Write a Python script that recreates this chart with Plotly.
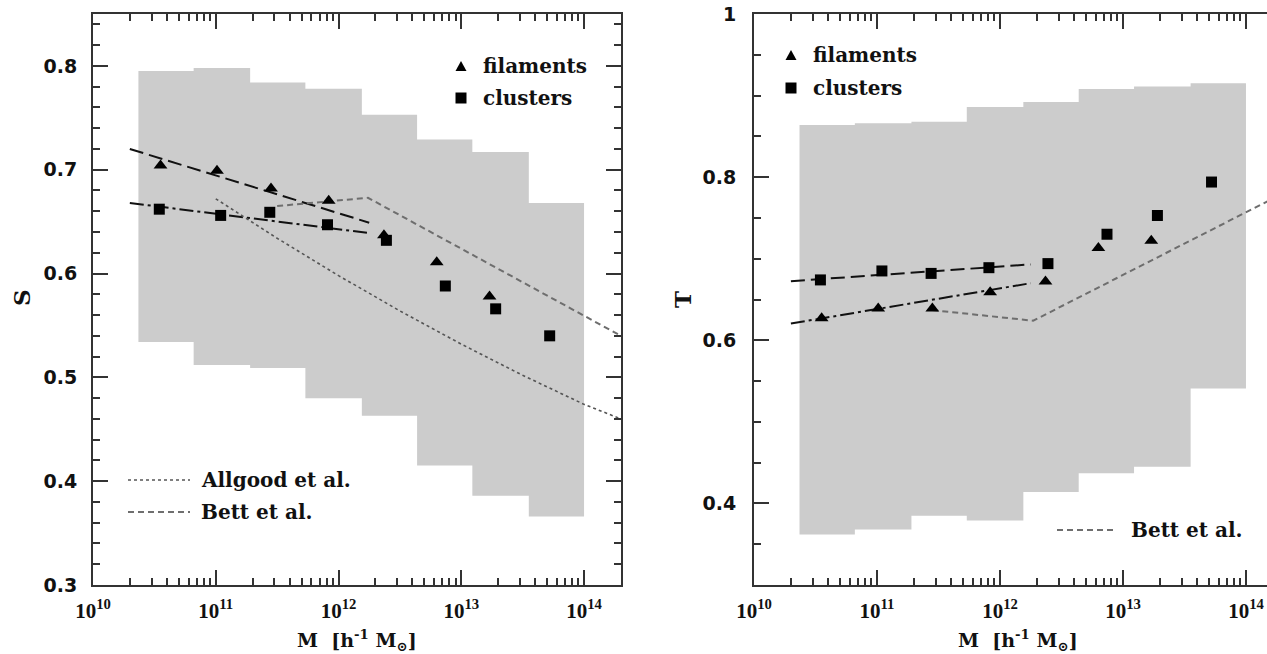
import plotly.graph_objects as go

# ---------------- data ----------------
# halo-mass bins (log10 M) of the grey 1-sigma bands
bin_edges_logM = [10.37, 10.82, 11.28, 11.73, 12.19, 12.64, 13.09, 13.55, 14.00]
S_band_hi = [0.795, 0.798, 0.784, 0.778, 0.753, 0.729, 0.717, 0.668]
S_band_lo = [0.534, 0.512, 0.509, 0.480, 0.463, 0.415, 0.386, 0.366]
T_band_hi = [0.864, 0.866, 0.868, 0.886, 0.892, 0.908, 0.911, 0.915]
T_band_lo = [0.362, 0.368, 0.385, 0.379, 0.414, 0.437, 0.445, 0.541]

# filaments (triangles)
fil_logM = [10.55, 11.01, 11.45, 11.92, 12.37, 12.80, 13.23]
S_fil = [0.704, 0.699, 0.682, 0.670, 0.637, 0.611, 0.578]
T_fil = [0.627, 0.639, 0.639, 0.659, 0.672, 0.713, 0.722]

# clusters (squares)
clu_logM = [10.54, 11.04, 11.44, 11.91, 12.39, 12.87, 13.28, 13.72]
S_clu = [0.662, 0.656, 0.659, 0.647, 0.632, 0.588, 0.566, 0.540]
T_clu = [0.674, 0.685, 0.682, 0.689, 0.694, 0.730, 0.753, 0.794]

# fits
fit_logM = [10.30, 12.25]
S_fil_fit = [0.720, 0.649]
S_clu_fit = [0.668, 0.639]
T_fil_fit = [0.6205, 0.670]
T_clu_fit = [0.6725, 0.693]

# literature curves
bett_S_logM = [11.50, 12.24, 14.30]
bett_S = [0.665, 0.673, 0.540]
bett_T_logM = [11.45, 12.27, 14.30]
bett_T = [0.637, 0.624, 0.780]
allgood_logM = [11.0, 11.5, 12.0, 12.5, 13.0, 13.5, 14.0, 14.3]
allgood_S = [0.672, 0.634, 0.598, 0.564, 0.532, 0.502, 0.474, 0.460]

decades = [10, 11, 12, 13, 14]
xtick_text = ["10<sup>%d</sup>" % d for d in decades]

# ---------------- layout helpers ----------------
W, H = 1267, 654
def px(x):
    return x / W
def py(y):
    return 1 - y / H

AX = "#333333"
GREY = "#cccccc"
TXT = "#111111"
SERIF = "DejaVu Serif"

def M(logs):
    return [10 ** v for v in logs]

def band(edges, hi, lo):
    xs, ys = [], []
    for i in range(len(hi)):
        xs += [edges[i], edges[i + 1]]
        ys += [hi[i], hi[i]]
    for i in reversed(range(len(lo))):
        xs += [edges[i + 1], edges[i]]
        ys += [lo[i], lo[i]]
    return M(xs), ys

fig = go.Figure()

def add_panel(xa, ya, band_hi, band_lo, fit_f, fit_c, dash_f, dash_c):
    bx, by = band(bin_edges_logM, band_hi, band_lo)
    fig.add_trace(go.Scatter(x=bx, y=by, fill="toself", fillcolor=GREY, mode="lines",
                             line=dict(width=0, color=GREY), hoverinfo="skip",
                             showlegend=False, xaxis=xa, yaxis=ya))
    fig.add_trace(go.Scatter(x=M(fit_logM), y=fit_f, mode="lines",
                             line=dict(color="#111", width=2, dash=dash_f),
                             showlegend=False, xaxis=xa, yaxis=ya))
    fig.add_trace(go.Scatter(x=M(fit_logM), y=fit_c, mode="lines",
                             line=dict(color="#111", width=2, dash=dash_c),
                             showlegend=False, xaxis=xa, yaxis=ya))

def add_points(xa, ya, yf, yc):
    fig.add_trace(go.Scatter(x=M(fil_logM), y=yf, mode="markers", name="filaments",
                             marker=dict(symbol="triangle-up", size=12, color="#000"),
                             showlegend=False, xaxis=xa, yaxis=ya))
    fig.add_trace(go.Scatter(x=M(clu_logM), y=yc, mode="markers", name="clusters",
                             marker=dict(symbol="square", size=11, color="#000"),
                             showlegend=False, xaxis=xa, yaxis=ya))

# left panel (S)
add_panel("x", "y", S_band_hi, S_band_lo, S_fil_fit, S_clu_fit,
          "14px,6px", "14px,4px,3px,4px")
fig.add_trace(go.Scatter(x=M(allgood_logM), y=allgood_S, mode="lines", name="Allgood et al.",
                         line=dict(color="#555", width=1.6, dash="dot"),
                         showlegend=False, xaxis="x", yaxis="y"))
fig.add_trace(go.Scatter(x=M(bett_S_logM), y=bett_S, mode="lines", name="Bett et al.",
                         line=dict(color="#6e6e6e", width=2, dash="6px,4px"),
                         showlegend=False, xaxis="x", yaxis="y"))
add_points("x", "y", S_fil, S_clu)

# right panel (T)
add_panel("x2", "y2", T_band_hi, T_band_lo, T_fil_fit, T_clu_fit,
          "14px,4px,3px,4px", "14px,6px")
fig.add_trace(go.Scatter(x=M(bett_T_logM), y=bett_T, mode="lines", name="Bett et al.",
                         line=dict(color="#6e6e6e", width=2, dash="6px,4px"),
                         showlegend=False, xaxis="x2", yaxis="y2"))
add_points("x2", "y2", T_fil, T_clu)

minor_x = [k * 10 ** e for e in range(10, 15) for k in range(2, 10)]

def xaxis_cfg(domain, rng, anchor):
    return dict(type="log", range=rng, domain=domain, anchor=anchor, tickmode="array",
                tickvals=M(decades), ticktext=xtick_text,
                ticks="inside", ticklen=15, tickwidth=2, tickcolor=AX,
                showline=True, linecolor=AX, linewidth=2, mirror="ticks",
                showgrid=False, zeroline=False, automargin=False,
                ticklabelstandoff=6,
                tickfont=dict(family="Liberation Serif", size=21, color=TXT, weight="bold"),
                minor=dict(tickmode="array", tickvals=minor_x, ticks="inside", ticklen=7,
                           tickwidth=1.5, tickcolor=AX, showgrid=False))

def yaxis_cfg(rng, anchor, vals, texts, minor_dt, mirror, standoff):
    return dict(range=rng, domain=[py(585), py(14)], anchor=anchor, tickmode="array",
                tickvals=vals, ticktext=texts,
                ticks="inside", ticklen=15, tickwidth=2, tickcolor=AX,
                showline=True, linecolor=AX, linewidth=2, mirror=mirror,
                showgrid=False, zeroline=False, automargin=False, ticklabelstandoff=standoff,
                tickfont=dict(family="DejaVu Sans", size=19, color=TXT, weight="bold"),
                minor=dict(dtick=minor_dt, tick0=0.3, ticks="inside", ticklen=7, tickwidth=1.5,
                           tickcolor=AX, showgrid=False))

fig.update_layout(
    width=W, height=H, margin=dict(l=0, r=0, t=0, b=0),
    paper_bgcolor="white", plot_bgcolor="white", showlegend=False,
    xaxis=xaxis_cfg([px(93), px(621)], [10, 14.301], "y"),
    xaxis2=xaxis_cfg([px(754), 1.0], [10, 14.171], "y2"),
    yaxis=yaxis_cfg([0.3, 0.85], "x", [0.3, 0.4, 0.5, 0.6, 0.7, 0.8],
                    ["0.3", "0.4", "0.5", "0.6", "0.7", "0.8"], 0.02, "ticks", 10),
    yaxis2=yaxis_cfg([0.3, 1.0], "x2", [0.4, 0.6, 0.8, 1.0],
                     ["0.4", "0.6", "0.8", "1"], 0.05, False, 12),
)

# ---------------- annotations: axis titles and legends ----------------
ann = []
def text(x, y, s, size=20, xanchor="left", angle=0, family=SERIF, weight="bold"):
    ann.append(dict(x=px(x), y=py(y), xref="paper", yref="paper", text=s, showarrow=False,
                    xanchor=xanchor, yanchor="middle", textangle=angle,
                    font=dict(family=family, size=size, color=TXT, weight=weight)))

xtitle = "M  [h<sup>-1</sup> M<sub>⊙</sub>]"
text(357, 640, xtitle, size=19, xanchor="center")
text(1018, 640, xtitle, size=19, xanchor="center")
text(21, 298, "S", size=23, xanchor="center", angle=-90)
text(682, 300, "T", size=23, xanchor="center", angle=-90)

text(481, 66, "filaments")
text(481, 98, "clusters")
text(811, 55, "filaments")
text(811, 88, "clusters")
text(199, 480, "Allgood et al.")
text(199, 512, "Bett et al.")
text(1129, 530, "Bett et al.")

shapes = []
def tri(cx, cy, w=11, h=10):
    shapes.append(dict(type="path", xref="paper", yref="paper",
                       path="M %f,%f L %f,%f L %f,%f Z" % (px(cx - w / 2), py(cy + h / 2),
                                                            px(cx + w / 2), py(cy + h / 2),
                                                            px(cx), py(cy - h / 2)),
                       fillcolor="#000", line=dict(width=0)))
def sq(cx, cy, s=11):
    shapes.append(dict(type="rect", xref="paper", yref="paper",
                       x0=px(cx - s / 2), x1=px(cx + s / 2), y0=py(cy + s / 2), y1=py(cy - s / 2),
                       fillcolor="#000", line=dict(width=0)))
def seg(x0, x1, y, color, width, dash):
    shapes.append(dict(type="line", xref="paper", yref="paper", x0=px(x0), x1=px(x1),
                       y0=py(y), y1=py(y), line=dict(color=color, width=width, dash=dash)))

tri(461, 66); sq(461, 98)
tri(791, 55); sq(791, 88)
seg(128, 190, 480, "#555", 1.6, "dot")
seg(128, 190, 512, "#6e6e6e", 2, "6px,4px")
seg(1057, 1113, 530, "#6e6e6e", 2, "6px,4px")

fig.update_layout(annotations=ann, shapes=shapes)
fig.write_html("out.html")
